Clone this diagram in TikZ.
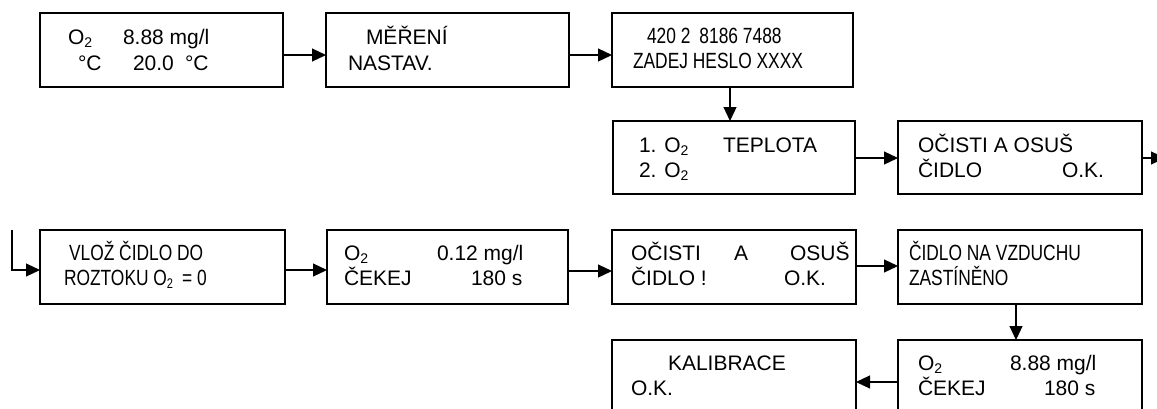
\documentclass[tikz,border=0pt]{standalone}
\usepackage{fontspec}
\setmainfont{Liberation Sans}
\newfontfamily\narrowfont[FakeStretch=0.79]{Liberation Sans}
\usetikzlibrary{arrows.meta}
\newcommand\sbtwo{\raisebox{-3pt}{\fontsize{14}{14}\selectfont 2}}
\tikzset{
  box/.style={draw, line width=1.5pt, anchor=north west, inner sep=0pt, outer sep=0pt,
    minimum width=243pt, minimum height=74pt},
  tallbox/.style={box, minimum height=90pt},
  txt/.style={anchor=base west, inner sep=0pt, outer sep=0pt, font=\fontsize{21}{25}\selectfont},
  ntxt/.style={txt, font=\fontsize{22}{25}\selectfont\narrowfont},
  arr/.style={line width=1.2pt, -{Triangle[length=14pt,width=13pt]}}
}
\begin{document}
\begin{tikzpicture}[x=1pt,y=-1pt]
\useasboundingbox (0,0) rectangle (1157,408);
\clip (0,0) rectangle (1157,408);
% row 1
\node[box] (b1) at (40,13) {};
\node[box] (b2) at (326,13) {};
\node[box, minimum width=241pt] (b3) at (612,13) {};
% row 2
\node[box, minimum width=242pt, minimum height=73pt] (b4) at (613,121) {};
\node[box, minimum width=244pt, minimum height=73pt] (b5) at (898,121) {};
% row 3
\node[box, minimum width=245pt] (b6) at (40,230) {};
\node[box, minimum width=241pt] (b7) at (327,230) {};
\node[box, minimum width=244pt] (b8) at (612,230) {};
\node[box, minimum width=244pt] (b9) at (898,230) {};
% row 4
\node[tallbox, minimum width=244pt] (b10) at (898,340) {};
\node[tallbox, minimum width=244pt] (b11) at (612,340) {};

% texts box 1
\node[txt] (t1a) at (68,44) {O\sbtwo};
\node[txt] (t1b) at (123,44) {8.88 mg/l};
\node[txt] (t1c) at (78,70) {°C};
\node[txt] (t1d) at (133,70) {20.0};
\node[txt] (t1e) at (185,70) {°C};
% box 2
\node[txt] (t2a) at (366,44) {MĚŘENÍ};
\node[txt] (t2b) at (348,70) {NASTAV.};
% box 3
\node[ntxt] (t3a) at (647,43) {420 2\hspace{9pt}8186 7488};
\node[ntxt] (t3b) at (633,68) {ZADEJ HESLO XXXX};
% box 4
\node[txt] (t4a) at (639,152) {1. O\sbtwo};
\node[txt] (t4b) at (723,152) {TEPLOTA};
\node[txt] (t4c) at (639,177) {2. O\sbtwo};
% box 5
\node[txt] (t5a) at (918,152) {OČISTI A OSUŠ};
\node[txt] (t5b) at (918,177) {ČIDLO};
\node[txt] (t5c) at (1062,177) {O.K.};
% box 6
\node[ntxt] (t6a) at (69,260) {VLOŽ ČIDLO DO};
\node[ntxt] (t6b) at (64,285) {ROZTOKU O\sbtwo\hspace{9pt}= 0};
% box 7
\node[txt] (t7a) at (344,260) {O\sbtwo};
\node[txt] (t7b) at (437,260) {0.12 mg/l};
\node[txt] (t7c) at (344,285) {ČEKEJ};
\node[txt] (t7d) at (471,285) {180 s};
% box 8
\node[txt] (t8a) at (631,260) {OČISTI};
\node[txt] (t8b) at (734,260) {A};
\node[txt] (t8c) at (790,260) {OSUŠ};
\node[txt] (t8d) at (631,285) {ČIDLO !};
\node[txt] (t8e) at (784,285) {O.K.};
% box 9
\node[ntxt] (t9a) at (909,260) {ČIDLO NA VZDUCHU};
\node[ntxt] (t9b) at (909,285) {ZASTÍNĚNO};
% box 10
\node[txt] (t10a) at (918,370) {O\sbtwo};
\node[txt] (t10b) at (1010,370) {8.88 mg/l};
\node[txt] (t10c) at (918,395) {ČEKEJ};
\node[txt] (t10d) at (1044,395) {180 s};
% box 11
\node[txt] (t11a) at (668,370) {KALIBRACE};
\node[txt] (t11b) at (631,395) {O.K.};

% connectors
\coordinate (inc) at (12,230);
\coordinate (outc) at (1165,158);
\draw[arr] (b1.east |- 0,55) -- (b2.west |- 0,55);
\draw[arr] (b2.east |- 0,55) -- (b3.west |- 0,55);
\draw[arr] (b3.south -| 730,0) -- (b4.north -| 730,0);
\draw[arr] (b4.east |- 0,158) -- (b5.west |- 0,158);
\draw[arr] (b5.east |- 0,158) -- (outc);
\draw[arr] (inc) |- (b6.west |- 0,270);
\draw[arr] (b6.east |- 0,270) -- (b7.west |- 0,270);
\draw[arr] (b7.east |- 0,271) -- (b8.west |- 0,271);
\draw[arr] (b8.east |- 0,266) -- (b9.west |- 0,266);
\draw[arr] (b9.south -| 1016,0) -- (b10.north -| 1016,0);
\draw[arr] (b10.west |- 0,382) -- (b11.east |- 0,382);
\end{tikzpicture}
\end{document}
